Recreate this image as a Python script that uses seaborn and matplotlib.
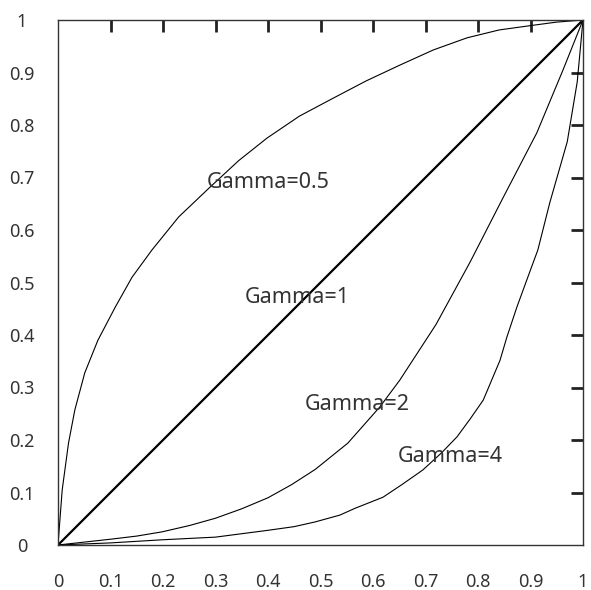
import matplotlib
matplotlib.use("Agg")
import matplotlib.pyplot as plt
import seaborn as sns

# curves (x = input, y = output)
g05_x = [0, 0.008, 0.02, 0.032, 0.051, 0.076, 0.109, 0.141, 0.179, 0.23, 0.29, 0.344, 0.398, 0.46,
         0.524, 0.587, 0.651, 0.715, 0.779, 0.84, 0.905, 0.95, 1]
g05_y = [0, 0.105, 0.194, 0.257, 0.328, 0.39, 0.453, 0.51, 0.562, 0.625, 0.682, 0.732, 0.775, 0.817,
         0.851, 0.884, 0.914, 0.943, 0.966, 0.981, 0.99, 0.996, 1]

g1_x = [0, 1]
g1_y = [0, 1]

g2_x = [0, 0.1, 0.15, 0.198, 0.25, 0.3, 0.35, 0.4, 0.445, 0.49, 0.552, 0.613, 0.651, 0.72, 0.785,
        0.848, 0.912, 0.962, 1]
g2_y = [0, 0.011, 0.017, 0.025, 0.037, 0.051, 0.069, 0.09, 0.115, 0.144, 0.194, 0.263, 0.314, 0.42, 0.539,
        0.662, 0.785, 0.905, 1]

g4_x = [0, 0.1, 0.2, 0.3, 0.4, 0.45, 0.49, 0.537, 0.566, 0.619, 0.655, 0.695, 0.73, 0.76, 0.785, 0.81,
        0.842, 0.855, 0.874, 0.893, 0.914, 0.937, 0.97, 0.989, 1]
g4_y = [0, 0.004, 0.01, 0.015, 0.028, 0.035, 0.044, 0.057, 0.07, 0.091, 0.115, 0.143, 0.175, 0.206, 0.24, 0.276,
        0.352, 0.396, 0.453, 0.505, 0.562, 0.653, 0.768, 0.882, 1]

ticks = [0, 0.1, 0.2, 0.3, 0.4, 0.5, 0.6, 0.7, 0.8, 0.9, 1]
tick_labels = ["0", "0.1", "0.2", "0.3", "0.4", "0.5", "0.6", "0.7", "0.8", "0.9", "1"]

labels = ["Gamma=0.5", "Gamma=1", "Gamma=2", "Gamma=4"]
label_pos = [(0.284, 0.69), (0.356, 0.472), (0.47, 0.267), (0.648, 0.168)]

sns.set_style("white")
plt.rcParams["font.family"] = ["Noto Sans", "DejaVu Sans"]

fig = plt.figure(figsize=(5.91, 5.90), dpi=100)
ax = fig.add_axes([58 / 591, 45 / 590, 525 / 591, 525 / 590])

for xs, ys, lw in [(g05_x, g05_y, 0.8), (g1_x, g1_y, 1.6), (g2_x, g2_y, 0.8), (g4_x, g4_y, 0.8)]:
    sns.lineplot(x=xs, y=ys, ax=ax, color="black", linewidth=lw, sort=False, estimator=None)

for txt, (tx, ty) in zip(labels, label_pos):
    ax.text(tx, ty, txt, fontsize=15.5, color="#333333", ha="left", va="center")

ax.set_xlim(0, 1)
ax.set_ylim(0, 1)
ax.set_xticks(ticks)
ax.set_yticks(ticks)
ax.set_xticklabels(tick_labels, fontsize=13, color="#333333")
ax.set_yticklabels(tick_labels, fontsize=13, color="#333333", ha="center")
ax.tick_params(axis="both", direction="in", length=8.5, width=2, color="#222222",
               top=True, right=True)
ax.tick_params(axis="x", pad=20)
ax.tick_params(axis="y", pad=26)

# no tick marks at the corners, only labels
for axis in (ax.xaxis, ax.yaxis):
    for t in (axis.get_major_ticks()[0], axis.get_major_ticks()[-1]):
        t.tick1line.set_visible(False)
        t.tick2line.set_visible(False)

for sp in ax.spines.values():
    sp.set_visible(True)
    sp.set_color("#333333")
    sp.set_linewidth(1.0)

fig.savefig("out.png", dpi=100)
